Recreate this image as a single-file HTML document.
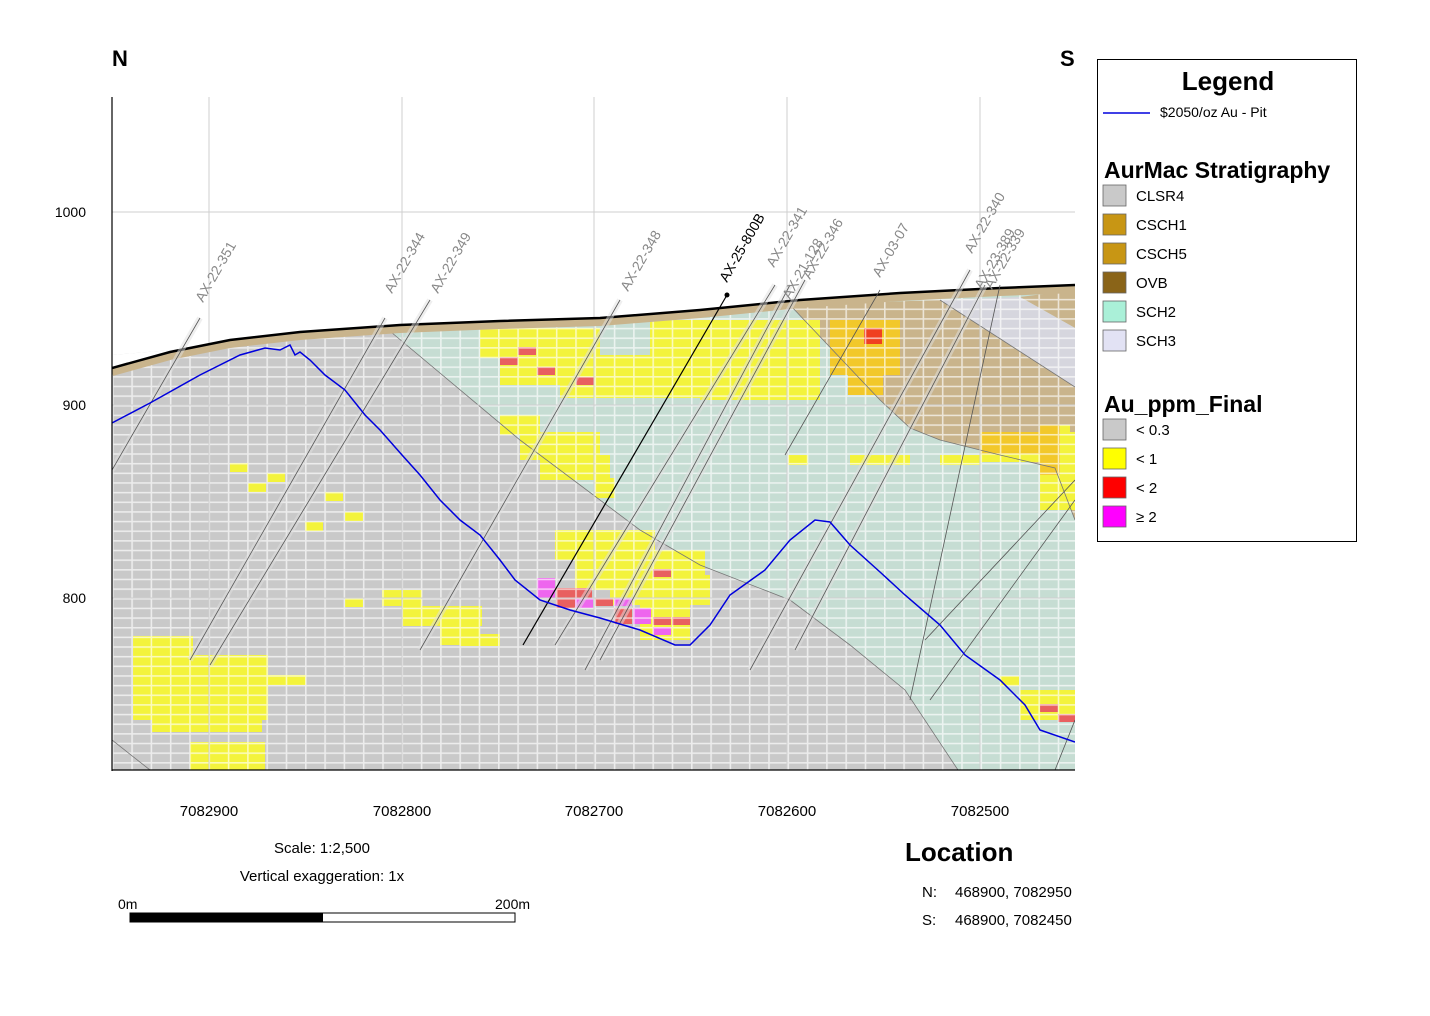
<!DOCTYPE html>
<html><head><meta charset="utf-8"><style>
body{margin:0;background:#fff;width:1430px;height:1011px;overflow:hidden;font-family:"Liberation Sans",sans-serif}
</style></head><body>
<svg width="1430" height="1011" xmlns="http://www.w3.org/2000/svg" font-family="Liberation Sans, sans-serif">
<defs>
<pattern id="g" x="112" y="212" width="19.3" height="9.65" patternUnits="userSpaceOnUse">
<path d="M0 0.8H19.3M0.8 0V9.65" stroke="#fff" stroke-opacity="0.65" stroke-width="1.6" fill="none"/>
</pattern>
<clipPath id="pc"><rect x="112" y="97" width="963" height="673"/></clipPath>
</defs>
<text x="112" y="66" font-size="22" font-weight="bold">N</text>
<text x="1060" y="66" font-size="22" font-weight="bold">S</text>
<g clip-path="url(#pc)">
<polygon points="112,368 170,352 230,340 300,332 400,325 500,321 600,318 700,310 800,300 900,293 1000,288 1075,285 1075,770 112,770" fill="#c9c9c9"/>
<polygon points="112,355 230,345 230,340 112,368" fill="#c9c9c9"/>
<polygon points="385,327 600,318 800,300 1075,285 1075,770 958,770 905,690 850,645 790,600 700,565 640,530 520,440" fill="#c6ddd3"/>
<polygon points="790,305 940,300 1075,387 1075,520 1055,468 1000,455 940,440 910,428 880,400" fill="#c9b48c"/>
<polygon points="1020,297 1075,290 1075,328" fill="#c9b48c"/>
<polygon points="940,300 1020,297 1075,328 1075,387" fill="#d6d6de"/>
<g fill="#f3f33c">
<rect x="480" y="328" width="120" height="30"/><rect x="500" y="355" width="200" height="30"/><rect x="560" y="380" width="140" height="18"/>
<rect x="650" y="320" width="60" height="40"/>
<rect x="500" y="415" width="40" height="20"/><rect x="520" y="432" width="80" height="28"/><rect x="540" y="455" width="70" height="25"/><rect x="595" y="478" width="20" height="20"/>
<rect x="700" y="320" width="120" height="80"/>
<rect x="980" y="432" width="95" height="30"/><rect x="1040" y="425" width="30" height="12"/><rect x="1040" y="455" width="35" height="55"/>
<rect x="133" y="636" width="60" height="25"/><rect x="133" y="655" width="135" height="65"/><rect x="152" y="700" width="110" height="32"/><rect x="190" y="742" width="75" height="28"/><rect x="268" y="675" width="38" height="10"/>
<rect x="230" y="463" width="18" height="9"/><rect x="248" y="483" width="18" height="9"/><rect x="267" y="473" width="18" height="9"/><rect x="325" y="492" width="18" height="9"/><rect x="345" y="512" width="18" height="9"/><rect x="305" y="522" width="18" height="9"/>
<rect x="345" y="598" width="18" height="9"/><rect x="382" y="590" width="40" height="16"/><rect x="402" y="606" width="80" height="20"/><rect x="440" y="615" width="40" height="30"/><rect x="460" y="634" width="40" height="12"/>
<rect x="555" y="530" width="100" height="30"/><rect x="575" y="550" width="130" height="40"/><rect x="610" y="575" width="100" height="30"/><rect x="640" y="600" width="50" height="40"/>
<rect x="1000" y="676" width="19" height="10"/><rect x="1020" y="690" width="55" height="30"/>
<rect x="850" y="455" width="60" height="10"/><rect x="940" y="455" width="40" height="10"/><rect x="788" y="455" width="20" height="10"/><rect x="745" y="367" width="38" height="20"/>
</g>
<g fill="#f2c82a"><rect x="830" y="320" width="70" height="55"/><rect x="848" y="375" width="35" height="20"/><rect x="980" y="432" width="60" height="22"/><rect x="1040" y="425" width="20" height="50"/></g>
<g fill="#e86060">
<rect x="500" y="357" width="18" height="8"/><rect x="518" y="347" width="18" height="8"/><rect x="537" y="367" width="18" height="8"/><rect x="576" y="377" width="18" height="8"/>
<rect x="556" y="588" width="36" height="20"/><rect x="595" y="598" width="18" height="8"/><rect x="614" y="608" width="18" height="16"/><rect x="653" y="569" width="18" height="8"/><rect x="653" y="617" width="18" height="8"/><rect x="672" y="617" width="18" height="8"/><rect x="1040" y="704" width="18" height="8"/><rect x="1058" y="714" width="18" height="8"/>
</g>
<g fill="#f04020"><rect x="864" y="328" width="18" height="16"/></g>
<g fill="#ee66ee"><rect x="537" y="578" width="18" height="20"/><rect x="575" y="598" width="18" height="10"/><rect x="633" y="608" width="18" height="16"/><rect x="653" y="627" width="18" height="8"/><rect x="614" y="598" width="18" height="8"/></g>
<rect x="112" y="212" width="963" height="560" fill="url(#g)"/>
<polygon points="112,290 400,290 600,290 1075,270 1075,285 1000,288 900,293 800,300 700,310 600,318 500,321 400,325 300,332 230,340 170,352 112,368 112,355 230,345 230,290" fill="#fff"/>
<polyline points="385,327 520,440 640,530 700,565 790,600 850,645 905,690 958,770" fill="none" stroke="#777" stroke-width="0.8"/>
<polyline points="790,305 880,400 910,428 940,440 1000,455 1055,468 1075,520" fill="none" stroke="#777" stroke-width="0.8"/>
<line x1="940" y1="300" x2="1075" y2="387" stroke="#777" stroke-width="0.8"/>
<line x1="112" y1="740" x2="150" y2="770" stroke="#777" stroke-width="0.8"/>
<g stroke="#cfcfcf" stroke-width="1">
<line x1="209" y1="97" x2="209" y2="770"/><line x1="402" y1="97" x2="402" y2="770"/><line x1="594" y1="97" x2="594" y2="770"/><line x1="787" y1="97" x2="787" y2="770"/><line x1="980" y1="97" x2="980" y2="770"/>
<line x1="112" y1="212" x2="1075" y2="212"/><line x1="112" y1="405" x2="1075" y2="405"/><line x1="112" y1="598" x2="1075" y2="598"/>
</g>
<polyline points="112,368 170,352 230,340 300,332 400,325 500,321 600,318 700,310 800,300 900,293 1000,288 1075,285" fill="none" stroke="#c9b48c" stroke-width="8" transform="translate(0,4)"/>
<polyline points="112,368 170,352 230,340 300,332 400,325 500,321 600,318 700,310 800,300 900,293 1000,288 1075,285" fill="none" stroke="#000" stroke-width="2.5"/>
<g stroke="#e0e0e0" stroke-opacity="0.5" stroke-width="6">
<line x1="200" y1="318" x2="112" y2="470"/><line x1="385" y1="318" x2="190" y2="660"/><line x1="430" y1="300" x2="210" y2="665"/>
<line x1="620" y1="300" x2="420" y2="650"/><line x1="775" y1="285" x2="555" y2="645"/><line x1="790" y1="285" x2="585" y2="670"/><line x1="805" y1="280" x2="600" y2="660"/>
<line x1="970" y1="270" x2="750" y2="670"/><line x1="985" y1="285" x2="795" y2="650"/>
</g>
<g stroke="#555" stroke-width="0.8">
<line x1="200" y1="318" x2="112" y2="470"/><line x1="385" y1="318" x2="190" y2="660"/><line x1="430" y1="300" x2="210" y2="665"/>
<line x1="620" y1="300" x2="420" y2="650"/><line x1="775" y1="285" x2="555" y2="645"/><line x1="790" y1="285" x2="585" y2="670"/><line x1="805" y1="280" x2="600" y2="660"/>
<line x1="880" y1="290" x2="785" y2="455"/><line x1="970" y1="270" x2="750" y2="670"/><line x1="985" y1="285" x2="795" y2="650"/><line x1="1000" y1="285" x2="910" y2="700"/>
<line x1="1075" y1="480" x2="925" y2="640"/><line x1="1075" y1="500" x2="930" y2="700"/><line x1="1075" y1="720" x2="1055" y2="770"/>
</g>
<line x1="727" y1="295" x2="523" y2="645" stroke="#000" stroke-width="1.2"/>
<circle cx="727" cy="295" r="2.5"/>
<polyline points="112,423 150,403 200,375 240,355 265,348 280,350 290,345 295,355 300,352 310,360 325,375 345,390 365,415 380,430 402,455 420,475 440,500 460,520 480,535 500,560 515,580 540,600 570,610 600,618 640,630 675,645 690,645 710,625 730,595 765,570 790,540 815,520 830,522 850,545 880,572 905,595 940,625 965,655 1000,680 1025,705 1040,730 1075,742" fill="none" stroke="#0000dd" stroke-width="1.5"/>
</g>
<g stroke="#000" stroke-width="1.2"><line x1="112" y1="97" x2="112" y2="771"/><line x1="112" y1="770" x2="1075" y2="770"/></g>
<g fill="#888" font-size="14">
<text transform="translate(203,303) rotate(-60)">AX-22-351</text>
<text transform="translate(392,294) rotate(-60)">AX-22-344</text>
<text transform="translate(438,294) rotate(-60)">AX-22-349</text>
<text transform="translate(628,292) rotate(-60)">AX-22-348</text>
<text transform="translate(774,268) rotate(-60)">AX-22-341</text>
<text transform="translate(790,300) rotate(-60)">AX-21-128</text>
<text transform="translate(810,280) rotate(-60)">AX-22-346</text>
<text transform="translate(880,278) rotate(-60)">AX-03-07</text>
<text transform="translate(972,254) rotate(-60)">AX-22-340</text>
<text transform="translate(982,290) rotate(-60)">AX-23-389</text>
<text transform="translate(992,290) rotate(-60)">AX-22-339</text>
</g>
<text transform="translate(727,283) rotate(-60)" font-size="14" fill="#000">AX-25-800B</text>
<g font-size="14" text-anchor="end"><text x="86" y="217">1000</text><text x="86" y="410">900</text><text x="86" y="603">800</text></g>
<g font-size="15" text-anchor="middle"><text x="209" y="816">7082900</text><text x="402" y="816">7082800</text><text x="594" y="816">7082700</text><text x="787" y="816">7082600</text><text x="980" y="816">7082500</text></g>
<text x="322" y="853" font-size="15" text-anchor="middle">Scale: 1:2,500</text>
<text x="322" y="881" font-size="15" text-anchor="middle">Vertical exaggeration: 1x</text>
<text x="118" y="909" font-size="14">0m</text><text x="495" y="909" font-size="14">200m</text>
<rect x="130" y="913" width="385" height="9" fill="#fff" stroke="#000"/><rect x="130" y="913" width="193" height="9" fill="#000"/>
<text x="905" y="861" font-size="26" font-weight="bold">Location</text>
<text x="922" y="897" font-size="15">N:</text><text x="955" y="897" font-size="15">468900, 7082950</text>
<text x="922" y="925" font-size="15">S:</text><text x="955" y="925" font-size="15">468900, 7082450</text>
<rect x="1097.5" y="59.5" width="259" height="482" fill="#fff" stroke="#000"/>
<text x="1228" y="90" font-size="26" font-weight="bold" text-anchor="middle">Legend</text>
<line x1="1103" y1="113" x2="1150" y2="113" stroke="#0000dd" stroke-width="1.5"/>
<text x="1160" y="117" font-size="14">$2050/oz Au - Pit</text>
<text x="1104" y="178" font-size="23" font-weight="bold">AurMac Stratigraphy</text>
<g stroke="#666" stroke-width="0.8">
<rect x="1103" y="185" width="23" height="21" fill="#c9c9c9"/><rect x="1103" y="214" width="23" height="21" fill="#c89614"/><rect x="1103" y="243" width="23" height="21" fill="#c89614"/><rect x="1103" y="272" width="23" height="21" fill="#8a6418"/><rect x="1103" y="301" width="23" height="21" fill="#aaf0d8"/><rect x="1103" y="330" width="23" height="21" fill="#e2e2f4"/>
<rect x="1103" y="419" width="23" height="21" fill="#c9c9c9"/><rect x="1103" y="448" width="23" height="21" fill="#ffff00"/><rect x="1103" y="477" width="23" height="21" fill="#ff0000"/><rect x="1103" y="506" width="23" height="21" fill="#ff00ff"/>
</g>
<g font-size="15"><text x="1136" y="201">CLSR4</text><text x="1136" y="230">CSCH1</text><text x="1136" y="259">CSCH5</text><text x="1136" y="288">OVB</text><text x="1136" y="317">SCH2</text><text x="1136" y="346">SCH3</text>
<text x="1136" y="435">&lt; 0.3</text><text x="1136" y="464">&lt; 1</text><text x="1136" y="493">&lt; 2</text><text x="1136" y="522">≥ 2</text></g>
<text x="1104" y="412" font-size="23" font-weight="bold">Au_ppm_Final</text>
</svg>
</body></html>
